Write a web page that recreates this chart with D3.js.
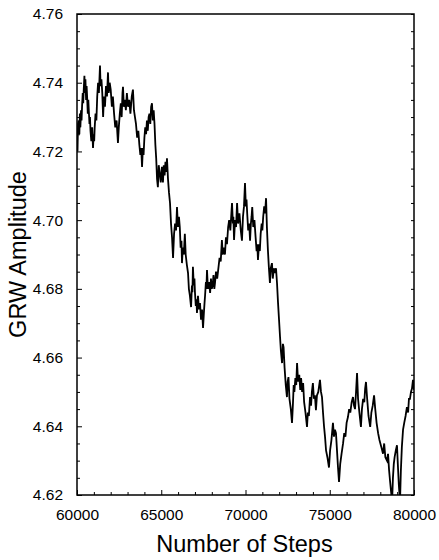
<!DOCTYPE html>
<html><head><meta charset="utf-8">
<script src="https://cdn.jsdelivr.net/npm/d3@7"></script>
<style>
html,body{margin:0;padding:0;background:#fff;}
svg{display:block;}
text{font-family:"Liberation Sans",Arial,Helvetica,sans-serif;fill:#000;}
</style></head>
<body>
<svg id="chart" width="439" height="560"></svg>
<script>
const steps = [60000,60030,60060,60100,60140,60170,60200,60240,60270,60300,60340,60370,60400,60440,60470,60500,60540,60570,60600,60640,60670,60700,60740,60770,60800,60850,60900,60950,60990,61020,61050,61100,61150,61200,61250,61300,61365,61400,61450,61500,61550,61600,61660,61720,61780,61840,61880,61940,62000,62070,62130,62200,62270,62350,62430,62480,62540,62600,62650,62700,62730,62780,62840,62900,62960,63030,63100,63170,63250,63320,63380,63440,63500,63570,63640,63700,63760,63810,63860,63910,63950,64000,64050,64100,64150,64200,64250,64300,64350,64400,64450,64500,64550,64600,64650,64700,64750,64800,64850,64900,64970,65040,65100,65150,65200,65250,65300,65340,65400,65460,65520,65580,65640,65700,65760,65820,65880,65935,65990,66050,66100,66150,66200,66230,66280,66340,66400,66450,66520,66590,66640,66700,66770,66820,66850,66880,66930,66970,67000,67050,67090,67120,67180,67240,67300,67360,67420,67480,67530,67570,67600,67650,67680,67715,67770,67840,67900,67950,68000,68050,68100,68150,68190,68250,68320,68400,68460,68530,68600,68650,68720,68780,68840,68900,68970,69030,69100,69200,69250,69280,69320,69380,69440,69500,69560,69640,69720,69790,69850,69910,69970,70020,70060,70100,70160,70220,70270,70320,70360,70400,70460,70530,70600,70660,70700,70740,70800,70850,70900,70960,71000,71050,71110,71160,71220,71270,71330,71390,71450,71500,71570,71620,71680,71750,71810,71870,71930,71990,72050,72100,72170,72220,72260,72320,72390,72460,72500,72550,72610,72690,72760,72810,72860,72900,72960,73010,73060,73120,73190,73250,73300,73360,73420,73480,73560,73650,73700,73760,73830,73890,73940,74000,74060,74120,74180,74240,74320,74420,74480,74540,74600,74660,74720,74780,74860,74955,75020,75100,75190,75250,75310,75370,75430,75490,75550,75620,75700,75790,75860,75930,76000,76080,76150,76220,76300,76380,76440,76500,76560,76620,76680,76760,76850,76910,76980,77050,77100,77150,77220,77300,77400,77470,77550,77630,77700,77780,77870,77950,78060,78160,78230,78300,78400,78460,78520,78580,78640,78700,78750,78800,78850,78920,78990,79040,79100,79170,79220,79280,79350,79420,79500,79580,79650,79700,79760,79820,79880,79940,80000];
const amplitude = [4.724,4.720,4.728,4.729,4.725,4.731,4.727,4.732,4.729,4.733,4.737,4.734,4.738,4.742,4.737,4.741,4.735,4.739,4.736,4.731,4.735,4.732,4.728,4.730,4.726,4.723,4.727,4.721,4.725,4.723,4.727,4.731,4.729,4.736,4.740,4.737,4.745,4.739,4.741,4.737,4.730,4.736,4.733,4.739,4.736,4.743,4.737,4.740,4.738,4.733,4.736,4.731,4.727,4.729,4.7225,4.727,4.731,4.734,4.730,4.737,4.7388,4.733,4.735,4.732,4.737,4.733,4.735,4.731,4.736,4.738,4.732,4.730,4.728,4.724,4.726,4.722,4.719,4.721,4.7155,4.721,4.719,4.724,4.727,4.725,4.729,4.726,4.730,4.731,4.728,4.733,4.734,4.729,4.732,4.728,4.722,4.718,4.712,4.7096,4.716,4.714,4.711,4.7155,4.711,4.716,4.713,4.717,4.714,4.718,4.712,4.708,4.705,4.699,4.695,4.689,4.696,4.699,4.697,4.7038,4.698,4.701,4.698,4.692,4.694,4.6875,4.692,4.690,4.696,4.690,4.687,4.6846,4.680,4.678,4.6747,4.681,4.679,4.6864,4.681,4.683,4.679,4.675,4.677,4.673,4.678,4.674,4.6759,4.671,4.674,4.6686,4.673,4.676,4.678,4.682,4.680,4.6855,4.680,4.682,4.6788,4.683,4.680,4.681,4.684,4.680,4.6817,4.685,4.683,4.6864,4.689,4.688,4.6942,4.690,4.692,4.690,4.695,4.693,4.698,4.700,4.697,4.705,4.699,4.701,4.6942,4.700,4.698,4.705,4.699,4.702,4.697,4.694,4.701,4.704,4.7108,4.704,4.706,4.702,4.697,4.699,4.694,4.699,4.701,4.7038,4.698,4.700,4.695,4.691,4.693,4.6884,4.693,4.691,4.696,4.699,4.697,4.701,4.704,4.702,4.7064,4.698,4.6913,4.686,4.6817,4.686,4.6875,4.683,4.686,4.6846,4.686,4.6817,4.676,4.671,4.666,4.662,4.6584,4.664,4.663,4.657,4.652,4.6485,4.653,4.6543,4.648,4.645,4.641,4.646,4.652,4.650,4.654,4.652,4.6584,4.653,4.655,4.6506,4.654,4.650,4.6526,4.647,4.644,4.6398,4.644,4.643,4.6485,4.646,4.650,4.6526,4.648,4.649,4.6447,4.649,4.650,4.6535,4.650,4.6485,4.644,4.640,4.6369,4.633,4.631,4.628,4.633,4.636,4.641,4.637,4.639,4.638,4.633,4.628,4.6238,4.629,4.632,4.635,4.638,4.637,4.641,4.6427,4.645,4.644,4.647,4.6485,4.646,4.645,4.650,4.6555,4.648,4.644,4.6398,4.645,4.648,4.647,4.651,4.6529,4.648,4.643,4.6398,4.644,4.646,4.649,4.645,4.641,4.638,4.636,4.634,4.632,4.635,4.631,4.630,4.632,4.6273,4.624,4.621,4.618,4.625,4.629,4.631,4.633,4.6345,4.629,4.623,4.618,4.627,4.634,4.639,4.641,4.643,4.6456,4.644,4.648,4.648,4.650,4.651,4.6535,4.6506];
const xMajorTicks = [60000,65000,70000,75000,80000];
const yMajorTicks = [4.62,4.64,4.66,4.68,4.70,4.72,4.74,4.76];
const xLabel = "Number of Steps";
const yLabel = "GRW Amplitude";

const L = 77, R = 414, T = 14, B = 495;
const svg = d3.select("#chart");
const x = d3.scaleLinear().domain([60000, 80000]).range([L, R]);
const y = d3.scaleLinear().domain([4.62, 4.76]).range([B, T]);

const xMinor = d3.range(60000, 80001, 1000).filter(v => !xMajorTicks.includes(v));
const yMinor = d3.range(0, 29).map(i => +(4.62 + i * 0.005).toFixed(3)).filter(v => !yMajorTicks.some(t => Math.abs(t - v) < 1e-9));

svg.append("clipPath").attr("id", "clip").append("rect")
  .attr("x", L).attr("y", T).attr("width", R - L).attr("height", B - T);

const data = steps.map((s, i) => [s, amplitude[i]]);
svg.append("path").datum(data)
  .attr("clip-path", "url(#clip)")
  .attr("fill", "none").attr("stroke", "#000").attr("stroke-width", 1.8)
  .attr("stroke-linejoin", "miter")
  .attr("d", d3.line().x(d => x(d[0])).y(d => y(d[1])));

function styleAxis(g) {
  g.select(".domain").remove();
  g.selectAll("line").attr("stroke", "#000").attr("stroke-width", 1);
  g.selectAll("text").attr("font-size", "15.5px").attr("font-family", "Liberation Sans, Arial, sans-serif");
}

// bottom axis
svg.append("g").attr("transform", `translate(0,${B})`)
  .call(d3.axisBottom(x).tickValues(xMajorTicks).tickSize(-5).tickPadding(14).tickFormat(d3.format("d")))
  .call(styleAxis);
svg.append("g").attr("transform", `translate(0,${B})`)
  .call(d3.axisBottom(x).tickValues(xMinor).tickSize(-3).tickFormat(""))
  .call(styleAxis);

// left axis
svg.append("g").attr("transform", `translate(${L},0)`)
  .call(d3.axisLeft(y).tickValues(yMajorTicks).tickSize(-5).tickPadding(14).tickFormat(d3.format(".2f")))
  .call(styleAxis);
svg.append("g").attr("transform", `translate(${L},0)`)
  .call(d3.axisLeft(y).tickValues(yMinor).tickSize(-3).tickFormat(""))
  .call(styleAxis);

// right axis (ticks only)
svg.append("g").attr("transform", `translate(${R},0)`)
  .call(d3.axisRight(y).tickValues(yMajorTicks.concat(yMinor)).tickSize(-3).tickFormat(""))
  .call(styleAxis);

// frame
svg.append("rect").attr("x", L).attr("y", T).attr("width", R - L).attr("height", B - T)
  .attr("fill", "none").attr("stroke", "#000").attr("stroke-width", 1.5);

svg.append("text").attr("x", (L + R) / 2 - 1).attr("y", 552).attr("text-anchor", "middle")
  .attr("font-size", "23.5px").text(xLabel);
svg.append("text").attr("transform", `translate(26,${(T + B) / 2}) rotate(-90)`)
  .attr("text-anchor", "middle").attr("font-size", "23.5px").text(yLabel);
</script>
</body></html>
